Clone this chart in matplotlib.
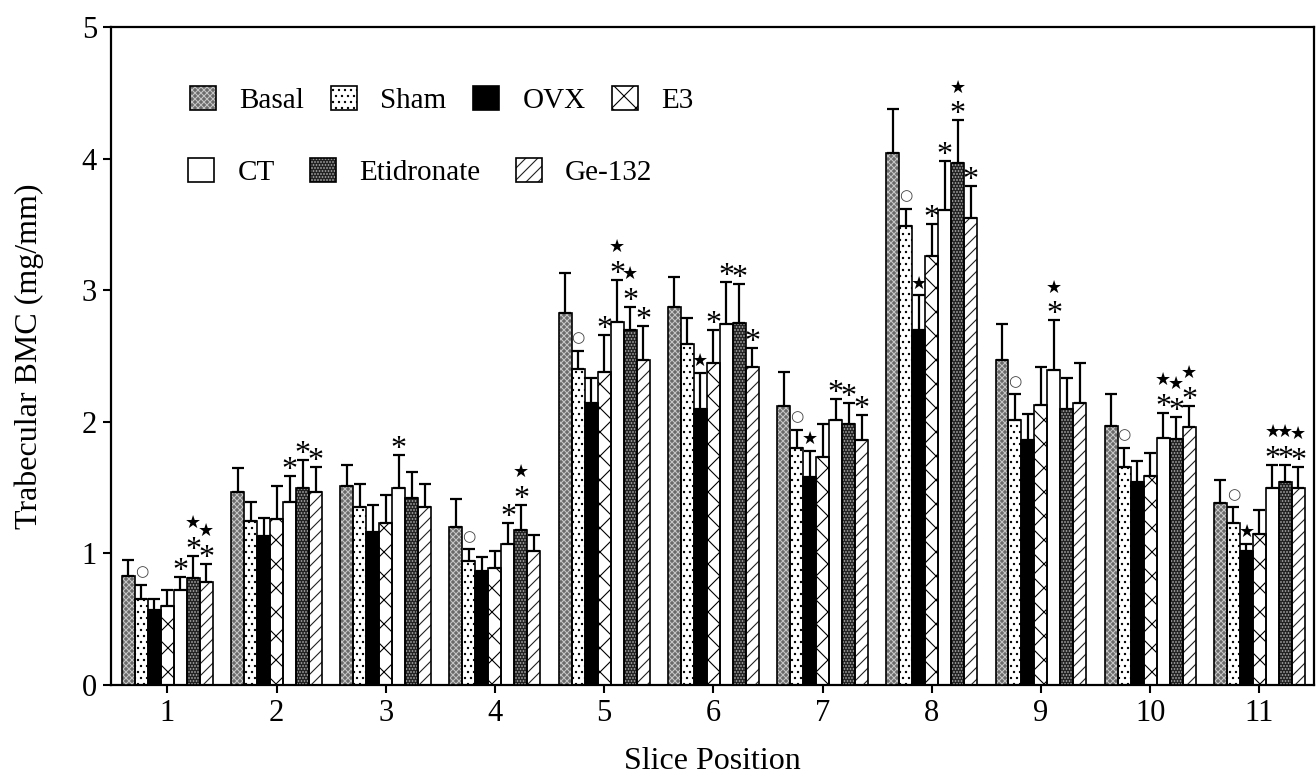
import matplotlib
matplotlib.use('Agg')
import matplotlib.pyplot as plt
import numpy as np
from matplotlib.patches import Patch
from matplotlib.legend_handler import HandlerTuple

DPI = 72
S = 100 / DPI  # keeps sizes equal to a 100-dpi layout

plt.rcParams['font.family'] = ['Liberation Serif', 'DejaVu Sans']
plt.rcParams['hatch.linewidth'] = 0.8 * S

# ---------------- data ----------------
slices = [1, 2, 3, 4, 5, 6, 7, 8, 9, 10, 11]
series_names = ['Basal', 'Sham', 'OVX', 'E3', 'CT', 'Etidronate', 'Ge-132']

basal = [0.83, 1.47, 1.51, 1.20, 2.83, 2.87, 2.12, 4.04, 2.47, 1.97, 1.38]
basal_sd = [0.12, 0.18, 0.16, 0.21, 0.30, 0.23, 0.26, 0.34, 0.27, 0.24, 0.18]
sham = [0.65, 1.25, 1.35, 0.94, 2.40, 2.59, 1.80, 3.49, 2.01, 1.66, 1.23]
sham_sd = [0.11, 0.14, 0.18, 0.09, 0.14, 0.20, 0.14, 0.13, 0.20, 0.14, 0.12]
ovx = [0.57, 1.13, 1.16, 0.87, 2.14, 2.10, 1.58, 2.70, 1.86, 1.54, 1.02]
ovx_sd = [0.08, 0.14, 0.21, 0.10, 0.19, 0.27, 0.20, 0.26, 0.20, 0.16, 0.05]
e3 = [0.60, 1.26, 1.23, 0.89, 2.38, 2.45, 1.73, 3.26, 2.13, 1.59, 1.15]
e3_sd = [0.12, 0.25, 0.21, 0.13, 0.28, 0.25, 0.25, 0.24, 0.29, 0.17, 0.18]
ct = [0.72, 1.39, 1.50, 1.07, 2.76, 2.74, 2.01, 3.61, 2.39, 1.88, 1.50]
ct_sd = [0.10, 0.20, 0.25, 0.16, 0.32, 0.32, 0.16, 0.37, 0.38, 0.19, 0.17]
etid = [0.81, 1.50, 1.42, 1.18, 2.70, 2.75, 1.98, 3.97, 2.10, 1.87, 1.54]
etid_sd = [0.17, 0.21, 0.20, 0.19, 0.17, 0.30, 0.16, 0.32, 0.23, 0.17, 0.13]
ge = [0.78, 1.47, 1.35, 1.02, 2.47, 2.42, 1.86, 3.55, 2.14, 1.96, 1.50]
ge_sd = [0.14, 0.19, 0.18, 0.12, 0.26, 0.14, 0.19, 0.24, 0.31, 0.16, 0.16]

# significance marks: (slice, series index) -> symbols (bottom to top)
marks = {
    (1, 1): '○', (1, 4): '*', (1, 5): '*★', (1, 6): '*★',
    (2, 4): '*', (2, 5): '*', (2, 6): '*',
    (3, 4): '*',
    (4, 1): '○', (4, 4): '*', (4, 5): '*★',
    (5, 1): '○', (5, 3): '*', (5, 4): '*★', (5, 5): '*★', (5, 6): '*',
    (6, 2): '★', (6, 3): '*', (6, 4): '*', (6, 5): '*', (6, 6): '*',
    (7, 1): '○', (7, 2): '★', (7, 4): '*', (7, 5): '*', (7, 6): '*',
    (8, 1): '○', (8, 2): '★', (8, 3): '*', (8, 4): '*', (8, 5): '*★', (8, 6): '*',
    (9, 1): '○', (9, 4): '*★',
    (10, 1): '○', (10, 4): '*★', (10, 5): '*★', (10, 6): '*★',
    (11, 1): '○', (11, 2): '★', (11, 4): '*★', (11, 5): '*★', (11, 6): '*★',
}

values = [basal, sham, ovx, e3, ct, etid, ge]
errors = [basal_sd, sham_sd, ovx_sd, e3_sd, ct_sd, etid_sd, ge_sd]

# (face, hatch, hatch colour)
styles = [
    ('#6a6a6a', 'xxxx', '#c4c4c4'),
    ('white', '..', 'black'),
    ('black', None, None),
    ('white', 'x', 'black'),
    ('white', None, None),
    ('#222222', '....', '#b0b0b0'),
    ('white', '//', '#222222'),
]

fig = plt.figure(figsize=(1316 / DPI, 783 / DPI), dpi=DPI)
ax = fig.add_axes([111 / 1316, 1 - 685 / 783, 1203 / 1316, 658 / 783])

w = 0.119
x0 = np.array(slices, dtype=float)
handles = []
for i, (vals, sd, (face, hatch, hcol)) in enumerate(zip(values, errors, styles)):
    xs = x0 + (i - 3) * w
    ax.bar(xs, vals, w, color=face, edgecolor='none', zorder=2)
    parts = [Patch(facecolor=face, edgecolor='none')]
    if hatch:
        ax.bar(xs, vals, w, facecolor='none', edgecolor=hcol, hatch=hatch,
               linewidth=0, zorder=3)
        parts.append(Patch(facecolor='none', edgecolor=hcol, hatch=hatch, linewidth=0))
    ax.bar(xs, vals, w, facecolor='none', edgecolor='black', linewidth=1.2 * S, zorder=4)
    parts.append(Patch(facecolor='none', edgecolor='black', linewidth=1.2 * S))
    handles.append(tuple(parts))
    ax.errorbar(xs, vals, yerr=[np.zeros(len(vals)), sd], fmt='none',
                ecolor='black', elinewidth=1.6 * S, capsize=4 * S, capthick=1.6 * S,
                zorder=5)

# significance marks (offsets given in pixels; 1 pt = 1 px at 72 dpi)
for (g, s), syms in marks.items():
    xx = slices[g - 1] + (s - 3) * w
    top = values[s][g - 1] + errors[s][g - 1]
    level = 0
    for ch in syms:
        if ch == '*':
            ax.annotate('*', xy=(xx, top), xytext=(0, -2), textcoords='offset points',
                        ha='center', va='baseline', fontsize=23 * S,
                        family='Liberation Serif', zorder=6)
        elif ch == '★':
            off = 33 if level > 0 else 12
            ax.annotate('★', xy=(xx, top), xytext=(0, off), textcoords='offset points',
                        ha='center', va='center', fontsize=13 * S, family='DejaVu Sans',
                        zorder=6)
        elif ch == '○':
            ax.annotate('○', xy=(xx, top), xytext=(0, 13), textcoords='offset points',
                        ha='center', va='center', fontsize=11 * S, family='DejaVu Sans',
                        color='#444444', zorder=6)
        level += 1

ax.set_xlim(0.484, 11.5)
ax.set_ylim(0, 5)
ax.set_xticks(slices)
ax.set_xticklabels([str(v) for v in slices])
ax.set_yticks([0, 1, 2, 3, 4, 5])
ax.tick_params(direction='out', length=6 * S, width=1.5 * S, labelsize=22 * S, pad=4 * S)
for sp in ax.spines.values():
    sp.set_linewidth(1.6 * S)

ax.set_xlabel('Slice Position', fontsize=23 * S, labelpad=14 * S)
ax.set_ylabel('Trabecular BMC (mg/mm)', fontsize=23 * S)
ax.yaxis.set_label_coords(-0.056, 0.5)

hm = {tuple: HandlerTuple(ndivide=1, pad=0)}
leg1 = ax.legend(handles[:4], series_names[:4], loc='center left',
                 bbox_to_anchor=((190 - 111) / 1203, (685 - 100) / 658),
                 ncol=4, frameon=False, fontsize=21 * S, handlelength=0.9,
                 handleheight=0.9, handletextpad=0.8, columnspacing=0.9, borderpad=0,
                 borderaxespad=0, handler_map=hm)
ax.add_artist(leg1)
leg2 = ax.legend(handles[4:], series_names[4:], loc='center left',
                 bbox_to_anchor=((188 - 111) / 1203, (685 - 172) / 658),
                 ncol=3, frameon=False, fontsize=21 * S, handlelength=0.9,
                 handleheight=0.9, handletextpad=0.8, columnspacing=1.2, borderpad=0,
                 borderaxespad=0, handler_map=hm)

fig.savefig('out.png', dpi=DPI)
